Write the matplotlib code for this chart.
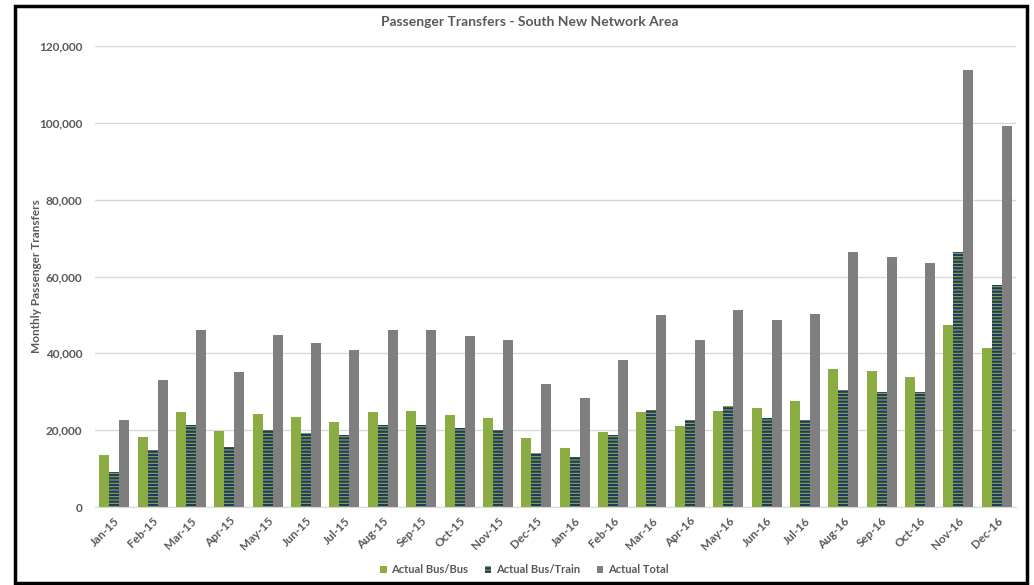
import numpy as np
import matplotlib.pyplot as plt
from matplotlib.patches import Rectangle
from matplotlib.ticker import FuncFormatter

months = ["Jan-15", "Feb-15", "Mar-15", "Apr-15", "May-15", "Jun-15", "Jul-15", "Aug-15",
          "Sep-15", "Oct-15", "Nov-15", "Dec-15", "Jan-16", "Feb-16", "Mar-16", "Apr-16",
          "May-16", "Jun-16", "Jul-16", "Aug-16", "Sep-16", "Oct-16", "Nov-16", "Dec-16"]

bus_bus = [13500, 18200, 24700, 19800, 24200, 23400, 22100, 24700,
           25000, 23900, 23200, 18000, 15400, 19500, 24700, 21100,
           25000, 25800, 27600, 35900, 35400, 33800, 47400, 41400]

bus_train = [9100, 14800, 21300, 15600, 20000, 19300, 18700, 21300,
             21300, 20600, 20000, 14000, 13000, 18700, 25200, 22600,
             26300, 23200, 22600, 30500, 29900, 29900, 66400, 57800]

total = [22600, 33100, 46000, 35100, 44800, 42700, 40900, 46100,
         46100, 44500, 43500, 32000, 28400, 38300, 50000, 43500,
         51300, 48700, 50200, 66400, 65100, 63500, 113700, 99200]

green = "#8AAC42"
navy = "#1F3864"
grey = "#7F7F7F"
text_col = "#595959"

plt.rcParams["font.family"] = ["Lato", "DejaVu Sans"]
plt.rcParams["hatch.linewidth"] = 1.6

fig = plt.figure(figsize=(10.34, 5.85), dpi=100)
ax = fig.add_axes([0.0919, 0.1333, 0.8907, 0.7881])

x = np.arange(len(months))
w = 0.26
ax.bar(x - w, bus_bus, w, color=green, label="Actual Bus/Bus", zorder=3)
ax.bar(x, bus_train, w, facecolor=green, edgecolor=navy, hatch="-----",
       linewidth=0, label="Actual Bus/Train", zorder=3)
ax.bar(x + w, total, w, color=grey, label="Actual Total", zorder=3)

ax.set_xlim(-0.5, len(months) - 0.5)
ax.set_ylim(0, 120000)
ax.set_yticks(np.arange(0, 120001, 20000))
ax.yaxis.set_major_formatter(FuncFormatter(lambda v, p: f"{int(v):,}"))
ax.grid(axis="y", color="#D9D9D9", linewidth=1, zorder=0)
ax.set_xticks(x)
ax.set_xticklabels(months, rotation=45, ha="right", rotation_mode="anchor")

for s in ["top", "right", "left"]:
    ax.spines[s].set_visible(False)
ax.spines["bottom"].set_color("#D9D9D9")
ax.tick_params(axis="both", length=0, colors=text_col, labelsize=8.5)
ax.tick_params(axis="y", pad=9)
ax.tick_params(axis="x", pad=6)
for lab in ax.get_xticklabels() + ax.get_yticklabels():
    lab.set_fontweight("bold")

ax.set_ylabel("Monthly Passenger Transfers", fontsize=8.5, fontweight="bold",
              color=text_col)
ax.yaxis.set_label_coords(-0.058, 0.5)
fig.text(0.5126, 0.962, "Passenger Transfers - South New Network Area",
         ha="center", va="center", fontsize=10, fontweight="bold", color=text_col)

leg = fig.legend(loc="center", bbox_to_anchor=(0.507, 0.026), ncol=3, frameon=False,
                 fontsize=8, handlelength=0.6, handleheight=0.6, columnspacing=1.5,
                 handletextpad=0.4)
for t in leg.get_texts():
    t.set_color(text_col)
    t.set_fontweight("bold")

# chart frame
fig.patches.append(Rectangle((15 / 1034, 2 / 585), 1012 / 1034, 577 / 585,
                             transform=fig.transFigure, fill=False,
                             edgecolor="black", linewidth=2.5))

fig.savefig("out.png", dpi=100)
